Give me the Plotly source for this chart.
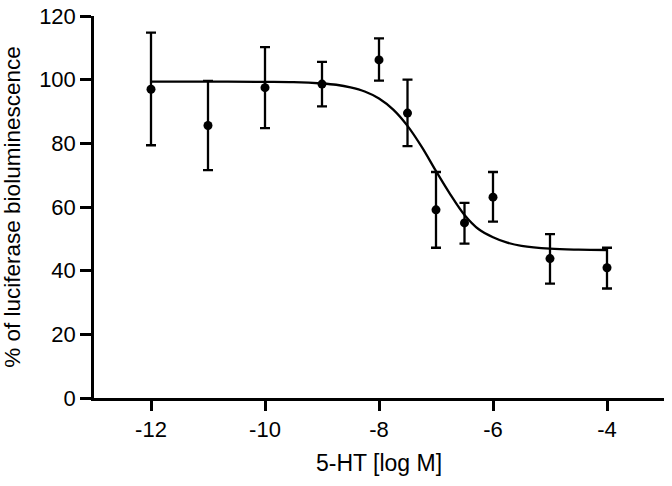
import plotly.graph_objects as go

# Measured points (log M), mean and error bar ends
log_conc = [-12, -11, -10, -9, -8, -7.5, -7, -6.5, -6, -5, -4]
mean_pct = [97.0, 85.6, 97.5, 98.6, 106.2, 89.5, 59.1, 55.0, 63.1, 43.8, 40.9]
upper_pct = [114.8, 99.6, 110.2, 105.6, 113.0, 100.0, 71.0, 61.3, 71.0, 51.5, 47.2]
lower_pct = [79.4, 71.6, 84.8, 91.6, 99.7, 79.1, 47.2, 48.5, 55.4, 35.9, 34.4]

# Fitted curve
curve_x = [-12, -11, -10, -9.5, -9, -8.75, -8.5, -8.25, -8, -7.75, -7.5, -7.25,
           -7, -6.75, -6.5, -6.25, -6, -5.75, -5.5, -5, -4.5, -4]
curve_y = [99.4, 99.4, 99.3, 99.2, 98.8, 98.4, 97.6, 96.3, 94.1, 90.6, 85.5, 78.9,
           71.3, 64.0, 57.5, 53.0, 50.5, 48.8, 47.8, 46.9, 46.6, 46.5]

x_ticks = [-12, -10, -8, -6, -4]
y_ticks = [0, 20, 40, 60, 80, 100, 120]

err_plus = [u - m for u, m in zip(upper_pct, mean_pct)]
err_minus = [m - l for m, l in zip(mean_pct, lower_pct)]

fig = go.Figure()
fig.add_trace(go.Scatter(
    x=curve_x, y=curve_y, mode="lines", line=dict(color="black", width=2.3, shape="spline"),
    hoverinfo="skip", showlegend=False))
fig.add_trace(go.Scatter(
    x=log_conc, y=mean_pct, mode="markers",
    marker=dict(color="black", size=9),
    error_y=dict(type="data", array=err_plus, arrayminus=err_minus, symmetric=False,
                 color="black", thickness=2.3, width=5),
    showlegend=False))

font = dict(family="Liberation Sans, Arial, sans-serif", color="black")
fig.update_layout(
    width=672, height=486,
    margin=dict(l=94, r=8, t=16, b=88),
    paper_bgcolor="white", plot_bgcolor="white",
    font=dict(**font, size=22),
    xaxis=dict(range=[-13, -3], tickvals=x_ticks, ticktext=[str(t) for t in x_ticks],
               showline=True, linecolor="black", linewidth=2.5, ticks="outside",
               ticklen=10, tickwidth=2.5, tickcolor="black", showgrid=False, zeroline=False,
               automargin=False,
               title=dict(text="5-HT [log M]", font=dict(size=23), standoff=14),
               tickfont=dict(size=22)),
    yaxis=dict(range=[0, 120], tickvals=y_ticks, showline=True, linecolor="black", linewidth=2.5,
               ticks="outside", ticklen=11, tickwidth=2.5, tickcolor="black", showgrid=False,
               zeroline=False, automargin=False,
               title=dict(text="% of luciferase bioluminescence", font=dict(size=22.5), standoff=13),
               tickfont=dict(size=22)),
)
fig.write_html("out.html", config={"displayModeBar": False},
               post_script="document.body.style.margin='0px';")
